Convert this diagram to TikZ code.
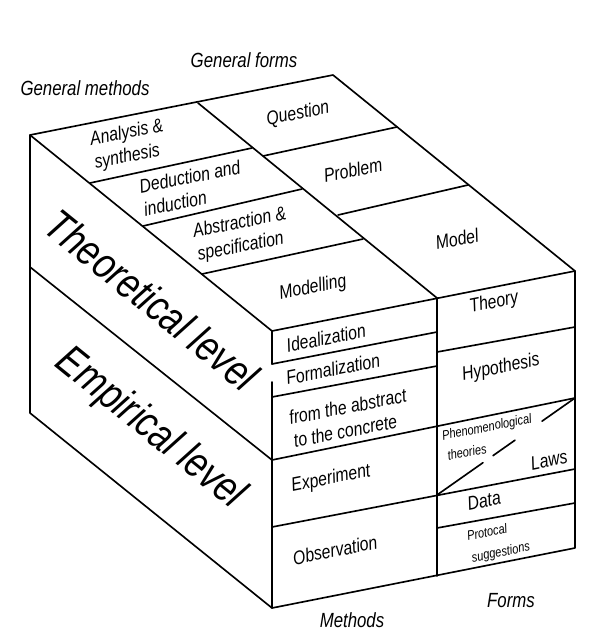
\documentclass[tikz,border=0pt]{standalone}
\usepackage{fontspec}
\newfontfamily\gost{Liberation Sans}[FakeStretch=0.82,UprightFont=* Italic]
\usetikzlibrary{calc}
\begin{document}
\begin{tikzpicture}[x=0.03cm,y=-0.03cm,
  edge/.style={line width=1.4pt,line cap=round,line join=round},
  txt/.style={font=\gost\fontsize{16.5}{20}\selectfont,inner sep=0pt,rotate=11.1,align=left},
  small/.style={font=\gost\fontsize{11.5}{13}\selectfont,inner sep=0pt,rotate=11.1},
  big/.style={font=\gost\fontsize{37}{40}\selectfont,inner sep=0pt,rotate=-39},
  head/.style={font=\gost\fontsize{17.5}{20}\selectfont,inner sep=0pt}]
\useasboundingbox (0,0) rectangle (589,637);
% vertices
\coordinate (A) at (30,135);
\coordinate (B) at (333,75);
\coordinate (C) at (575,271);
\coordinate (D) at (272,331);
\coordinate (TM) at (198,103);
\coordinate (M1) at (437,298);
\coordinate (L) at (30,413);
\coordinate (FB) at (272,608);
\coordinate (MB) at (437,576);
\coordinate (RB) at (575,548);
\coordinate (LL) at (30,267);
\coordinate (LF) at (272,460);
\coordinate (LR) at (575,398);
\coordinate (E1) at (272,527);
\coordinate (E2) at (575,469);
\coordinate (EM) at (437,495);
\coordinate (G1) at (272,364);
\coordinate (G2) at (272,382);
% top face dividers
\coordinate (t1a) at (90,183);  \coordinate (t1b) at (252,148);
\coordinate (t2a) at (143,226); \coordinate (t2b) at (302,189);
\coordinate (t3a) at (202,274); \coordinate (t3b) at (363,239);
\coordinate (q1) at (263,156);  \coordinate (q2) at (397,127);
\coordinate (p1) at (338,215);  \coordinate (p2) at (468,185);
% front dividers
\coordinate (f1a) at (272,364); \coordinate (f1b) at (437,332);
\coordinate (f2a) at (272,397); \coordinate (f2b) at (437,366);
\coordinate (h1a) at (437,352); \coordinate (h1b) at (575,327);
\coordinate (d1a) at (437,528); \coordinate (d1b) at (575,503);

\draw[edge] (A) -- (B) -- (C) -- (RB) -- (FB) -- (L) -- cycle;
\draw[edge] (A) -- (D) -- (C);
\draw[edge] (D) -- (G1);
\draw[edge] (G2) -- (FB);
\draw[edge] (M1) -- (MB);
\draw[edge] (TM) -- (M1);
\draw[edge] (LL) -- (LF) -- (LR);
\draw[edge] (E1) -- (E2);
\draw[edge] (t1a) -- (t1b);
\draw[edge] (t2a) -- (t2b);
\draw[edge] (t3a) -- (t3b);
\draw[edge] (q1) -- (q2);
\draw[edge] (p1) -- (p2);
\draw[edge] (f1a) -- (f1b);
\draw[edge] (f2a) -- (f2b);
\draw[edge] (h1a) -- (h1b);
\draw[edge] (d1a) -- (d1b);
\draw[edge] (LR) -- ($(LR)!0.239!(EM)$);
\draw[edge] ($(LR)!0.435!(EM)$) -- ($(LR)!0.594!(EM)$);
\draw[edge] ($(LR)!0.667!(EM)$) -- (EM);

% labels
\node[head] (gf) at (244,60) {General forms};
\node[head] (gm) at (85,88) {General methods};
\node[head] (me) at (352,620) {Methods};
\node[head] (fo) at (511,601) {Forms};
\node[big] (tl) at (152,300) {Theoretical level};
\node[big] (el) at (150,429) {Empirical level};
\node[txt] (an) at (129,145) {Analysis \&\\synthesis};
\node[txt] (de) at (192,188) {Deduction and\\induction};
\node[txt] (ab) at (242,235) {Abstraction \&\\specification};
\node[txt] (mo) at (313,288) {Modelling};
\node[txt] (qu) at (298,114) {Question};
\node[txt] (pr) at (353,170) {Problem};
\node[txt] (md) at (457,239) {Model};
\node[txt] (id) at (326,338) {Idealization};
\node[txt] (fm) at (333,369) {Formalization};
\node[txt] (fr) at (350,418) {from the abstract\\to the concrete};
\node[txt] (ex) at (331,479) {Experiment};
\node[txt] (ob) at (335,550) {Observation};
\node[txt] (th) at (494,303) {Theory};
\node[txt] (hy) at (501,368) {Hypothesis};
\node[small] (ph) at (487,428) {Phenomenological};
\node[small] (ts) at (467,452) {theories};
\node[txt] (lw) at (549,460) {Laws};
\node[txt] (da) at (484,501) {Data};
\node[small] (pc) at (487,532) {Protocal};
\node[small] (su) at (501,553) {suggestions};
\end{tikzpicture}
\end{document}
